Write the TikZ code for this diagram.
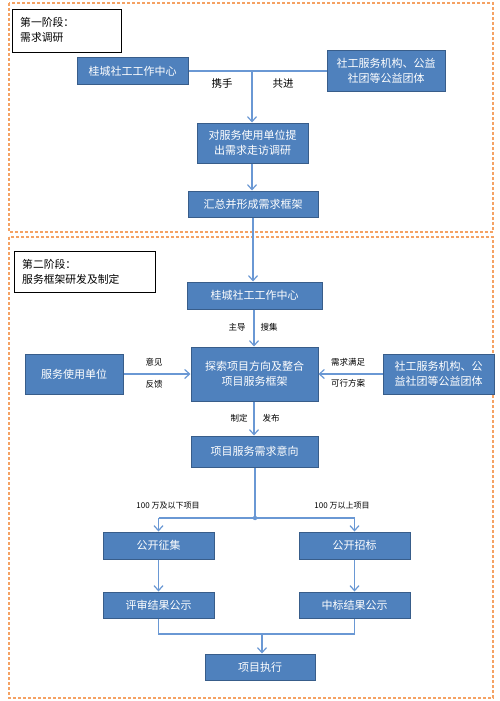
\documentclass[tikz,border=0pt]{standalone}
\usepackage{fontspec}
\setmainfont{Noto Sans CJK SC}
\usetikzlibrary{arrows.meta}
\definecolor{boxblue}{HTML}{4F81BD}
\definecolor{boxedge}{HTML}{385D8A}
\definecolor{linkblue}{HTML}{6A98D4}
\definecolor{phaseorange}{HTML}{F5A263}
\tikzset{
  box/.style={draw=boxedge, fill=boxblue, text=white, line width=1pt, inner sep=0pt, align=center, font=\fontsize{11}{15.5}\selectfont},
  phasebox/.style={draw=black, line width=0.8pt, fill=white},
  phaseframe/.style={draw=phaseorange, line width=1.1pt, dash pattern=on 3pt off 2pt},
  link/.style={draw=linkblue, line width=1.2pt},
  arr/.style={link, -{Straight Barb[length=5pt,width=9pt,line width=1.2pt]}},
  lbl/.style={font=\fontsize{8.5}{10}\selectfont, text=black, inner sep=0pt},
  lblbig/.style={font=\fontsize{10.5}{12}\selectfont, text=black, inner sep=0pt},
  phasetext/.style={font=\fontsize{10.8}{15.5}\selectfont, align=left, anchor=west, inner sep=0pt}
}
\begin{document}
\begin{tikzpicture}[x=1pt,y=-1pt]
\useasboundingbox[fill=white] (0,0) rectangle (500,701);
% phase frames
\draw[phaseframe] (9,3) rectangle (493,232);
\draw[phaseframe] (9,237) rectangle (493,698);
\draw[phasebox] (12,9) rectangle (121,52);
\node[phasetext] (p1) at (20,30) {第一阶段：\\需求调研};
\draw[phasebox] (14,251) rectangle (155,292);
\node[phasetext] (p2) at (22,272) {第二阶段：\\服务框架研发及制定};

% phase 1 nodes
\node[box, minimum width=111, minimum height=26] (a1) at (132.5,71) {桂城社工工作中心};
\node[box, minimum width=118, minimum height=40] (a2) at (386,71) {社工服务机构、公益\\社团等公益团体};
\node[box, minimum width=111, minimum height=40] (a3) at (252.5,143) {对服务使用单位提\\出需求走访调研};
\node[box, minimum width=130, minimum height=26] (a4) at (253,204) {汇总并形成需求框架};

% phase 2 nodes
\node[box, minimum width=135, minimum height=27] (b1) at (254.5,295.5) {桂城社工工作中心};
\node[box, minimum width=127, minimum height=54] (b2) at (254.5,374) {探索项目方向及整合\\项目服务框架};
\node[box, minimum width=98, minimum height=40] (b3) at (74,374) {服务使用单位};
\node[box, minimum width=111, minimum height=40] (b4) at (438.5,374) {社工服务机构、公\\益社团等公益团体};
\node[box, minimum width=127, minimum height=31] (b5) at (254.5,451.5) {项目服务需求意向};
\node[box, minimum width=111, minimum height=27] (c1) at (158.5,545.5) {公开征集};
\node[box, minimum width=111, minimum height=27] (c2) at (354.5,545.5) {公开招标};
\node[box, minimum width=111, minimum height=26] (c3) at (158.5,605) {评审结果公示};
\node[box, minimum width=111, minimum height=26] (c4) at (354.5,605) {中标结果公示};
\node[box, minimum width=110, minimum height=26] (d1) at (260,667) {项目执行};

% connectors phase 1
\coordinate (j1) at (252,71);
\draw[link] (a1.east) -- (a2.west);
\draw[arr] (j1) -- (j1 |- a3.north);
\draw[arr] (a3.south -| 252,0) -- (a4.north -| 252,0);
\draw[arr] (a4.south -| 253,0) -- (b1.north -| 253,0);
\node[lblbig] (t1) at (222,84) {携手};
\node[lblbig] (t2) at (283,84) {共进};

% connectors phase 2
\draw[arr] (b1.south -| 254,0) -- (b2.north -| 254,0);
\draw[arr] (b3.east) -- (b2.west);
\draw[arr] (b4.west) -- (b2.east);
\draw[arr] (b2.south -| 254,0) -- (b5.north -| 254,0);
\node[lbl] (t3) at (237,327) {主导};
\node[lbl] (t4) at (269,327) {搜集};
\node[lbl] (t5) at (154,362) {意见};
\node[lbl] (t6) at (154,384) {反馈};
\node[lbl] (t7) at (348,362) {需求满足};
\node[lbl] (t8) at (348,383) {可行方案};
\node[lbl] (t9) at (239,418) {制定};
\node[lbl] (t10) at (271,418) {发布};

\coordinate (j2) at (255,518);
\draw[link] (b5.south -| j2) -- (j2);
\fill[linkblue] (j2) circle (2.2);
\draw[link] (c1.north |- j2) -- (c2.north |- j2);
\draw[arr] (c1.north |- j2) -- (c1.north);
\draw[arr] (c2.north |- j2) -- (c2.north);
\node[lbl, font=\fontsize{8}{10}\selectfont] (t11) at (168,506) {100 万及以下项目};
\node[lbl, font=\fontsize{8}{10}\selectfont] (t12) at (342,506) {100 万以上项目};

\draw[arr] (c1.south) -- (c3.north);
\draw[arr] (c2.south) -- (c4.north);
\coordinate (j3) at (262,634);
\draw[link] (c3.south) -- (c3.south |- j3) -- (c4.south |- j3) -- (c4.south);
\draw[arr] (j3) -- (d1.north -| j3);
\end{tikzpicture}
\end{document}
